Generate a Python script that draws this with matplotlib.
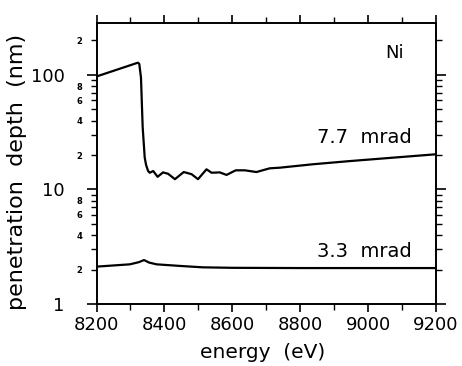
import matplotlib
matplotlib.use("Agg")
import matplotlib.pyplot as plt
from matplotlib.ticker import FixedLocator, FixedFormatter

# Data
energy_77 = [8200, 8322, 8326, 8331, 8336, 8342, 8346, 8352, 8357, 8367, 8380, 8396,
             8411, 8431, 8457, 8480, 8499, 8524, 8539, 8563, 8583, 8610, 8637, 8671,
             8710, 8740, 8837, 8946, 9200]
depth_77 = [97, 128, 125, 95, 35, 19, 16.4, 14.5, 14.0, 14.5, 12.9, 14.1,
            13.7, 12.3, 14.2, 13.6, 12.3, 15.0, 14.0, 14.1, 13.4, 14.7, 14.7, 14.2,
            15.3, 15.5, 16.6, 17.7, 20.3]

energy_33 = [8200, 8298, 8325, 8340, 8355, 8377, 8446, 8513, 8600, 8800, 9000, 9200]
depth_33 = [2.12, 2.22, 2.32, 2.42, 2.30, 2.22, 2.15, 2.09, 2.07, 2.06, 2.06, 2.06]

x_major = [8200, 8400, 8600, 8800, 9000, 9200]
x_minor = [8300, 8500, 8700, 8900, 9100]
y_major = [1, 10, 100]
y_major_labels = ["1", "10", "100"]
y_minor = [m * d for d in (1, 10, 100) for m in range(2, 10) if m * d < 290]
y_minor_labeled = {2: "2", 4: "4", 6: "6", 8: "8"}

fig = plt.figure(figsize=(4.62, 3.66), dpi=100)
ax = fig.add_axes([96.5 / 462, 62 / 366, (436 - 96.5) / 462, (304 - 22.7) / 366])

ax.plot(energy_77, depth_77, color="black", lw=1.6)
ax.plot(energy_33, depth_33, color="black", lw=1.6)

ax.set_yscale("log")
ax.set_xlim(8200, 9200)
ax.set_ylim(1, 286)

for s in ax.spines.values():
    s.set_linewidth(1.4)

ax.xaxis.set_major_locator(FixedLocator(x_major))
ax.xaxis.set_minor_locator(FixedLocator(x_minor))
ax.yaxis.set_major_locator(FixedLocator(y_major))
ax.yaxis.set_major_formatter(FixedFormatter(y_major_labels))
ax.yaxis.set_minor_locator(FixedLocator(y_minor))
minor_labels = []
for v in y_minor:
    d = 1 if v < 10 else (10 if v < 100 else 100)
    m = int(round(v / d))
    if d == 100:
        minor_labels.append("2" if m == 2 else "")
    else:
        minor_labels.append(y_minor_labeled.get(m, ""))
ax.yaxis.set_minor_formatter(FixedFormatter(minor_labels))

ax.tick_params(axis="x", which="major", direction="out", length=6, width=1.2,
               top=True, bottom=True, labelsize=13, pad=3)
ax.tick_params(axis="x", which="minor", direction="out", length=4, width=1.0,
               top=True, bottom=True)
ax.tick_params(axis="y", which="major", direction="out", length=7, width=1.2,
               left=True, right=True, labelsize=13, pad=16)
ax.tick_params(axis="y", which="minor", direction="out", length=4, width=1.0,
               left=True, right=True, labelsize=6, pad=6)
for lab in ax.yaxis.get_minorticklabels():
    lab.set_fontweight("bold")

ax.set_xlabel("energy  (eV)", fontsize=14.5)
ax.xaxis.set_label_coords(0.49, -0.14)
ax.set_ylabel("penetration  depth  (nm)", fontsize=16)
ax.yaxis.set_label_coords(-0.205, 0.47)

ax.text(9106, 155, "Ni", fontsize=13, ha="right", va="center")
ax.text(9128, 28.7, "7.7  mrad", fontsize=14, ha="right", va="center")
ax.text(9128, 2.9, "3.3  mrad", fontsize=14, ha="right", va="center")

fig.savefig("out.png", dpi=100)
